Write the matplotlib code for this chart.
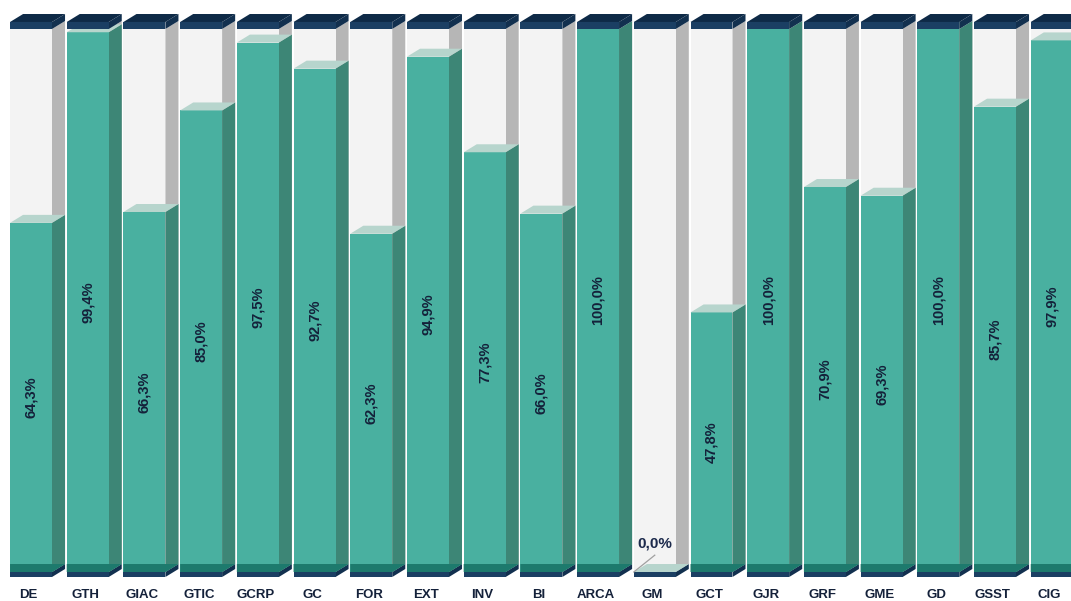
import matplotlib
matplotlib.use('Agg')
import matplotlib.pyplot as plt
from matplotlib.patches import Polygon

# share of each unit (percent)
units = ['DE', 'GTH', 'GIAC', 'GTIC', 'GCRP', 'GC', 'FOR', 'EXT', 'INV', 'BI',
         'ARCA', 'GM', 'GCT', 'GJR', 'GRF', 'GME', 'GD', 'GSST', 'CIG']
values = [64.3, 99.4, 66.3, 85.0, 97.5, 92.7, 62.3, 94.9, 77.3, 66.0,
          100.0, 0.0, 47.8, 100.0, 70.9, 69.3, 100.0, 85.7, 97.9]

# 3d box geometry in data units
W = 0.74      # front face width
DX = 0.23     # depth, horizontal
DY = 1.47     # depth, vertical
BH = 0.92     # base plate height
CH = 1.29     # cap height

glass_front = '#f3f3f3'
glass_side = '#b6b6b6'
liq_front = '#49b0a0'
liq_side = '#3d8676'
liq_top = '#b7d5cd'
floor = '#1d7a6d'
navy_front = '#1b3f63'
navy_side = '#12304f'
navy_top = '#0e2a47'
txt = '#14213a'

plt.rcParams['font.family'] = ['Liberation Sans', 'DejaVu Sans']

fig = plt.figure(figsize=(10.71, 6.01), dpi=100)
ax = fig.add_axes([0, 0, 1, 1])
ax.set_xlim(-0.547, 18.34)
ax.set_ylim(-5.34, 105.34)
ax.axis('off')


def poly(pts, color, z):
    ax.add_patch(Polygon(pts, closed=True, facecolor=color, edgecolor='none', zorder=z))


def box(xl, xr, y0, y1, front, side, top=None, z=1):
    poly([(xr, y0), (xr + DX, y0 + DY), (xr + DX, y1 + DY), (xr, y1)], side, z)
    poly([(xl, y0), (xr, y0), (xr, y1), (xl, y1)], front, z)
    if top is not None:
        poly([(xl, y1), (xr, y1), (xr + DX, y1 + DY), (xl + DX, y1 + DY)], top, z)


for i, (name, v) in enumerate(zip(units, values)):
    xl, xr = i - W / 2, i + W / 2
    # glass tube
    box(xl, xr, 0, 100, glass_front, glass_side, z=1)
    # base plate
    box(xl, xr, -BH, 0, navy_front, navy_side, z=2)
    # liquid
    if v > 0:
        box(xl, xr, 0, v, liq_front, liq_side, z=3)
        poly([(xl, 0), (xr, 0), (xr + DX, DY), (xl, DY)], floor, 4)
    poly([(xl, v), (xr, v), (xr + DX, v + DY), (xl + DX, v + DY)], liq_top, 4)
    # cap
    box(xl, xr, 100, 100 + CH, navy_front, navy_side, navy_top, z=5)

    lab = f'{v:.1f}%'.replace('.', ',')
    if v > 0:
        ax.text(i, v / 2, lab, rotation=90, ha='center', va='center',
                fontsize=10.5, fontweight='bold', color=txt, zorder=6)
    else:
        ax.plot([xl, i], [0.0, 3.1], color='#a0a0a0', lw=0.9, zorder=6)
        ax.text(i, 5.2, lab, ha='center', va='center',
                fontsize=11, fontweight='bold', color='#1c2a4c', zorder=6)

    ax.text(i - 0.04, -4.25, name, ha='center', va='center',
            fontsize=9.5, fontweight='bold', color=txt)

fig.savefig('out.png', dpi=100)
